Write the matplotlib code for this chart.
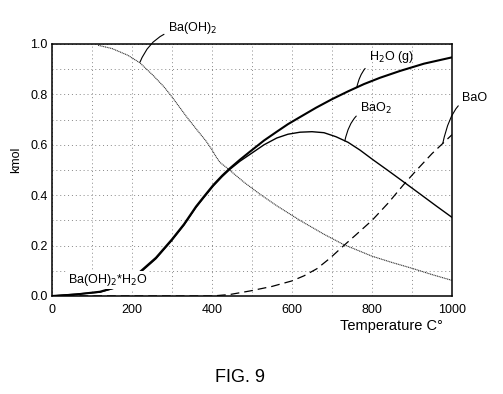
import matplotlib
matplotlib.use("Agg")
import matplotlib.pyplot as plt
from matplotlib.ticker import MultipleLocator

plt.rcParams['font.family'] = ['Liberation Sans', 'DejaVu Sans']

# ---- data ----
temp_h2o = [0, 60, 120, 160, 200, 220, 260, 300, 330, 360, 380, 403, 425, 445, 470, 495, 530, 562, 590, 620,
            660, 700, 740, 780, 820, 870, 930, 1000]
h2o = [0.0, 0.006, 0.017, 0.035, 0.065, 0.096, 0.152, 0.225, 0.285, 0.355, 0.395, 0.440, 0.477, 0.507, 0.541,
       0.573, 0.617, 0.652, 0.682, 0.710, 0.747, 0.781, 0.812, 0.841, 0.866, 0.893, 0.922, 0.947]

temp_baoh2 = [115, 150, 190, 220, 253, 280, 300, 337, 362, 385, 400, 410, 420, 440, 460, 482, 520, 562, 620,
              680, 728, 800, 850, 900, 950, 1000]
baoh2 = [0.995, 0.982, 0.955, 0.925, 0.875, 0.83, 0.79, 0.71, 0.66, 0.615, 0.58, 0.553, 0.53, 0.505, 0.478,
         0.449, 0.404, 0.358, 0.30, 0.245, 0.205, 0.158, 0.133, 0.11, 0.085, 0.062]

temp_bao2 = [0, 120, 160, 200, 220, 260, 300, 330, 360, 380, 403, 425, 445, 470, 495, 530, 562, 590, 620, 650,
             680, 710, 740, 770, 803, 840, 878, 920, 960, 1000]
bao2 = [0.0, 0.015, 0.033, 0.062, 0.092, 0.148, 0.221, 0.281, 0.351, 0.391, 0.436, 0.473, 0.503, 0.535, 0.562,
        0.600, 0.627, 0.642, 0.650, 0.652, 0.648, 0.632, 0.610, 0.579, 0.54, 0.498, 0.454, 0.405, 0.358, 0.312]

temp_bao = [0, 400, 445, 495, 550, 600, 630, 662, 695, 728, 760, 800, 840, 878, 910, 950, 1000]
bao = [0.0, 0.0, 0.006, 0.02, 0.038, 0.06, 0.08, 0.108, 0.15, 0.198, 0.243, 0.30, 0.368, 0.44, 0.497, 0.565, 0.64]

x_ticks = [0, 200, 400, 600, 800, 1000]
y_ticks = [0.0, 0.2, 0.4, 0.6, 0.8, 1.0]
y_tick_labels = ['0.0', '0.2', '0.4', '0.6', '0.8', '1.0']

fig = plt.figure(figsize=(5.03, 3.94), dpi=100)
ax = fig.add_axes([52/503, 1 - 296/394, 400/503, 252/394])

ax.set_xlim(0, 1000)
ax.set_ylim(0, 1.0)

# grid
ax.xaxis.set_minor_locator(MultipleLocator(100))
ax.yaxis.set_minor_locator(MultipleLocator(0.1))
ax.grid(which='both', color='#888888', linestyle=(0, (1, 3)), linewidth=0.7)
ax.set_axisbelow(True)

ax.plot(temp_baoh2, baoh2, color='#333333', linestyle=(0, (1, 0.6)), linewidth=0.8)
ax.plot(temp_bao2, bao2, color='black', linewidth=1.0)
ax.plot(temp_bao, bao, color='black', linestyle=(0, (7, 4)), linewidth=0.9)
ax.plot(temp_h2o, h2o, color='black', linewidth=1.5)

ax.set_xticks(x_ticks)
ax.set_xticklabels([str(t) for t in x_ticks])
ax.set_yticks(y_ticks)
ax.set_yticklabels(y_tick_labels)
ax.tick_params(which='both', length=0, labelsize=9)
ax.tick_params(axis='x', pad=6)
ax.tick_params(axis='y', pad=3)
for s in ax.spines.values():
    s.set_linewidth(1.1)

fig.text(16/503, 1 - 160/394, 'kmol', rotation=90, ha='center', va='center', fontsize=9)
fig.text(391/503, 1 - 326/394, 'Temperature C\u00b0', ha='center', va='center', fontsize=10.5)
fig.text(240/503, 1 - 377/394, 'FIG. 9', ha='center', va='center', fontsize=13)

def leader(text, xy, xytext, ang):
    ax.annotate(text, xy=xy, xytext=xytext, textcoords='data',
                ha='left', va='center', fontsize=9, annotation_clip=False,
                arrowprops=dict(arrowstyle='-', color='black', lw=0.8,
                                shrinkA=1, shrinkB=0,
                                connectionstyle='angle3,angleA=0,angleB=%d' % ang))

leader('Ba(OH)$_2$', (220, 0.928), (290, 1.063), 68)
leader('H$_2$O (g)', (762, 0.828), (792, 0.947), 78)
leader('BaO$_2$', (732, 0.615), (770, 0.746), 78)
leader('BaO', (977, 0.606), (1025, 0.786), 78)

ax.text(40, 0.063, 'Ba(OH)$_2$*H$_2$O', ha='left', va='center', fontsize=9,
        bbox=dict(facecolor='white', edgecolor='none', pad=0.5), zorder=5)

fig.savefig('out.png', dpi=100)
